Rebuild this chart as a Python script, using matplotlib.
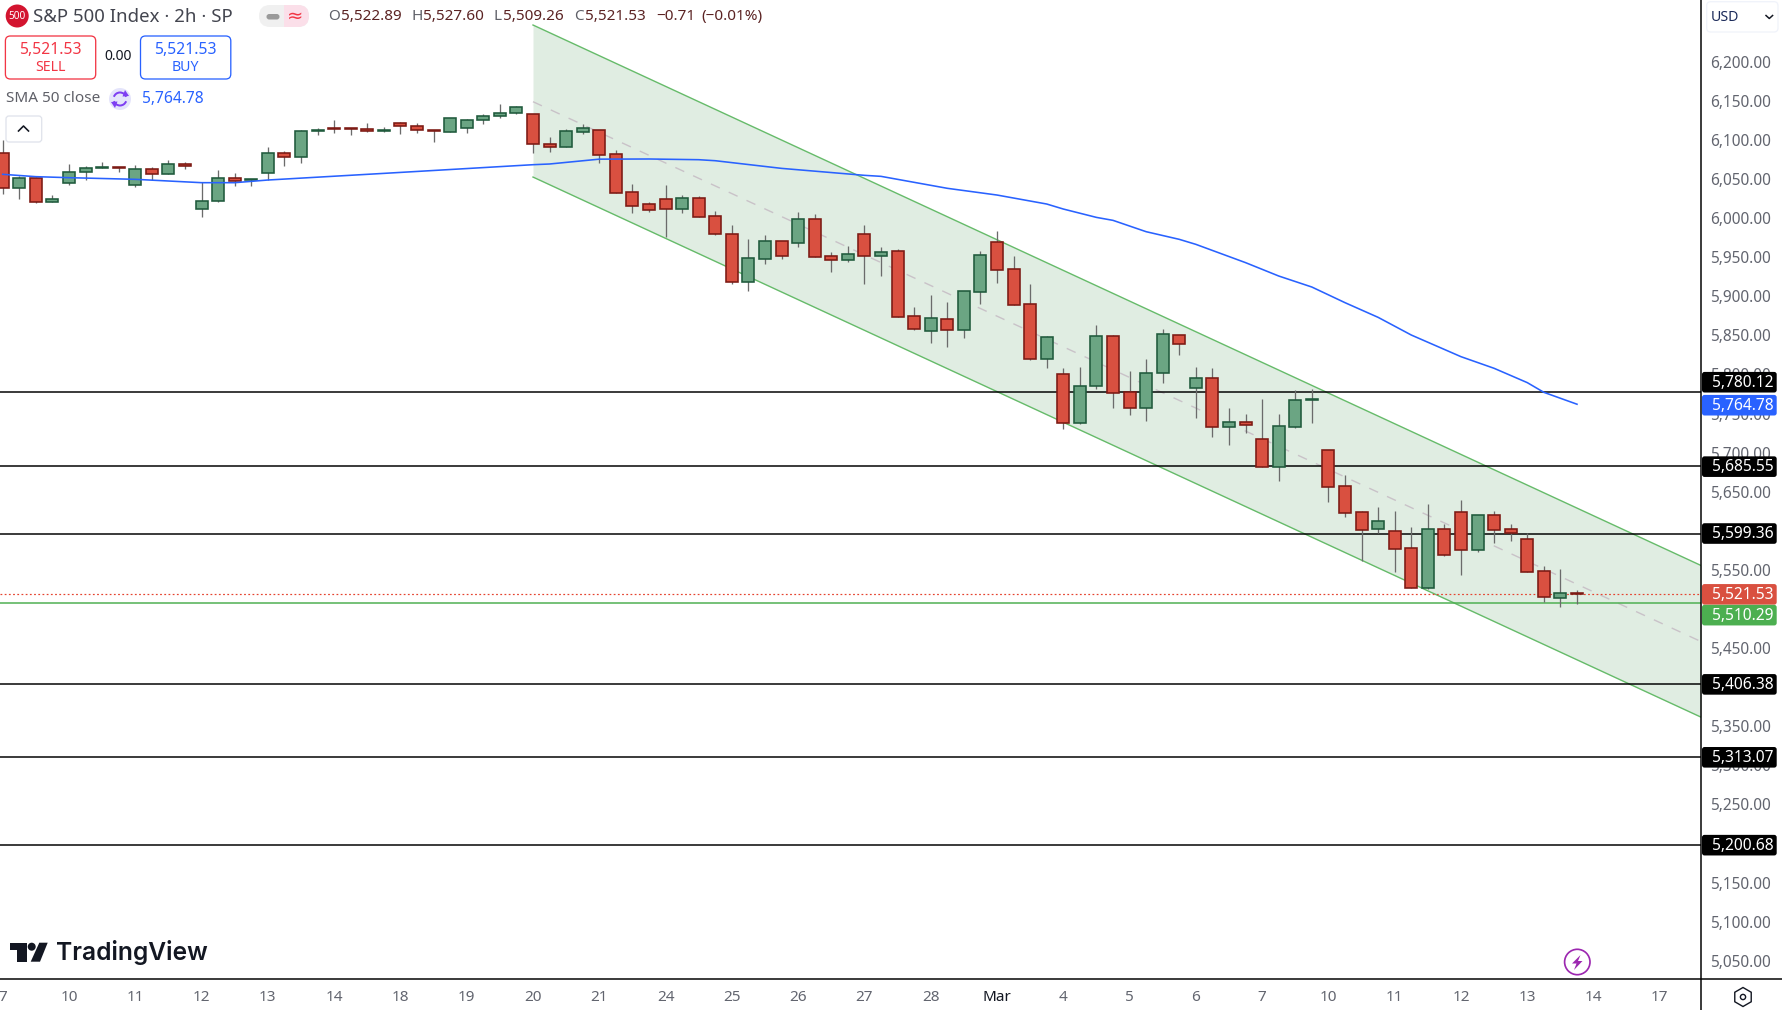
import matplotlib
matplotlib.use("Agg")
import matplotlib.pyplot as plt
from matplotlib.patches import FancyBboxPatch, Circle, Polygon, Arc, RegularPolygon, Rectangle
from matplotlib.transforms import ScaledTranslation

plt.rcParams['font.family'] = ['Noto Sans', 'DejaVu Sans']

# ---------- data ----------
opens = [6085.7,6041,6053.7,6023,6047.3,6062.3,6066.5,6068.2,6044.8,6065.3,6058.9,6071.7,
         6014.1,6024.3,6053.7,6051.6,6061,6085.7,6080.6,6113.9,6118.1,6117.7,6116.4,6113.9,
         6124.1,6120.3,6115.6,6113.4,6117.7,6127.9,6133,6136.9,
         6135.6,6097.2,6094.2,6113.4,6115.1,6084.4,6035.8,6020.5,6026.9,6014.9,6028.2,6005.1,
         5982.1,5921.6,5951,5973.2,5971.4,6001.3,5953.9,5949.7,5982.1,5954.8,5960.4,5877.2,
         5858.9,5873.4,5860.2,5908.8,5971.9,5937.3,5892.6,5823,
         5803,5740.3,5787.7,5851.6,5780,5759.5,5804.3,5852.9,5785.9,5797.9,5736.1,5741.6,
         5719.9,5684.9,5736.1,5770.8,5705.8,5659.7,5626.5,5605.6,5602.2,5580.4,5530.1,5604.7,
         5626.5,5577.8,5622.6,5604.7,5591.9,5551,5517.3,5522.89]
highs = [6102.8,6056.7,6055.9,6032.4,6072.1,6069.5,6074.2,6068.6,6070.8,6067.8,6077.2,6074.2,
         6049.5,6064.4,6060.1,6052.9,6094.3,6088.7,6115.6,6118.1,6128.4,6118.6,6124.1,6119.8,
         6125.8,6124.1,6115.8,6130.9,6129.2,6136,6148.8,6146.3,
         6135.9,6107,6116.9,6123.2,6115.6,6090,6046.5,6023.5,6045.2,6032.4,6031.1,6011.9,
         5994,5976.1,5981.3,5973.4,6010.7,6008,5959.5,5967.2,5994,5965.9,5963.3,5889.1,
         5904.5,5895.6,5909.4,5960.8,5986.4,5954.4,5918.6,5852,
         5811.5,5812.4,5866.1,5853.3,5807.3,5822.6,5860.9,5853.1,5812.4,5811.1,5760,5752.3,
         5771.5,5752.3,5783,5784.3,5706,5674.2,5628.2,5633.3,5627.7,5607.8,5637.1,5611.9,
         5642.3,5622.8,5628.2,5611.4,5599.6,5557.8,5554,5527.6]
lows = [6033.7,6027.3,6021.8,6023,6045.2,6051.6,6066.5,6062.3,6043,6051.6,6058.9,6066.1,
        6004.7,6023.9,6044.4,6044.4,6051.6,6070,6073.8,6109.6,6112.2,6109.6,6113,6113,
        6110.5,6112.2,6100.6,6113,6112.2,6123.2,6131.3,6136.5,
        6086.6,6087.9,6094,6110.5,6073.8,6035.2,6009.8,6011.1,5979.1,6009.8,6004.5,5981.3,
        5918.6,5910,5944.6,5951,5965.9,5953.3,5933.9,5946.7,5919,5928.8,5876.6,5859.7,
        5843.5,5838.4,5849.9,5893.4,5920.3,5891.9,5821.8,5811.5,
        5733,5740.1,5783.8,5760.4,5751.4,5743.7,5792.4,5828.2,5747.6,5723.3,5713,5728.4,
        5684.7,5667,5734.8,5741.2,5640.1,5620.9,5564.7,5599.6,5550.6,5529.9,5528.8,5571,
        5546.8,5576,5587,5590.4,5550.4,5512.2,5505.8,5509.26]
closes = [6041,6053.7,6023,6026.9,6061.4,6066.5,6067.8,6067.4,6065.3,6058.9,6071.7,6069.1,
          6024.3,6053.7,6050.8,6052.5,6085.7,6080.6,6113.9,6115.1,6117.3,6116.4,6113.9,6115.1,
          6120.3,6115.1,6114.7,6130.5,6127.9,6133,6136.9,6144.6,
          6097.2,6094.2,6113.9,6117.7,6084,6035.4,6018.8,6013.7,6014.9,6028.2,6004.7,5983,
          5921.6,5951.4,5973.2,5954.8,6001.3,5953.5,5949.7,5956.5,5954.8,5959.1,5876.8,5861.4,
          5874.7,5860.2,5909.2,5955.2,5936.9,5892.1,5823,5850.3,
          5741.2,5787.7,5851.6,5778.7,5760.4,5804.3,5854.1,5842.2,5797.9,5736.1,5741.6,5738.6,
          5684.9,5736.5,5769.8,5771.1,5659.3,5626,5604.3,5615,5580,5530.1,5604.7,5572.3,
          5577.8,5622.6,5604.3,5599.6,5550.6,5518.6,5522.9,5521.53]

sma_bars = [0,2,4,8,12,14,16,23,32,33,36,39,42,43,47,52,53,57,60,63,64,66,67,69,71,72,75,77,79,81,83,85,88,90,92,93,95]
sma_vals = [6058.9,6055.9,6054.6,6052.5,6048.2,6048.2,6051.6,6060.1,6071.2,6072.1,6078.3,6078.5,6077.6,
            6076.3,6066.5,6057.6,6056.3,6041,6032.4,6020.9,6014.5,6003.8,6000,5985.5,5975.7,5969.3,
            5945.9,5928.8,5914.7,5894.7,5875.9,5853.3,5825.6,5810.7,5792.4,5780,5764.78]

channel_bars = [32, 102.5]
channel_top = [6249.9, 5558.3]
channel_mid = [6151.8, 5461.0]
channel_bot = [6055.4, 5364.3]

levels = [5780.12, 5685.55, 5599.36, 5406.38, 5313.07, 5200.68]
green_level = 5510.29
last_price = 5521.53
sma_last = 5764.78

# ticks that sit fully behind a price label in the reference carry no visible text
y_ticks = [6200,6150,6100,6050,6000,5950,5900,5850,5800,5750,5700,5650,5600,5550,5500,5450,
           5400,5350,5300,5250,5200,5150,5100,5050]
hidden_y_ticks = [5600, 5500, 5400, 5200]
x_labels = ['7','10','11','12','13','14','18','19','20','21','24','25','26','27','28','Mar',
            '4','5','6','7','10','11','12','13','14','17']

# ---------- layout ----------
W, H = 1783, 1010
FRAME_X, FRAME_Y = 1701.3, 979.3
PX = 0.72  # one pixel in points at dpi 100
fig = plt.figure(figsize=(W/100, H/100), dpi=100, facecolor='white')
ax = fig.add_axes([0, 1-FRAME_Y/H, FRAME_X/W, FRAME_Y/H])
ax.set_xlim(-0.163, 102.5)
ax.set_ylim(5029.1, 6281.9)
for s in ax.spines.values():
    s.set_visible(False)

GREY = '#62656f'
ax.yaxis.tick_right()
ax.set_yticks(y_ticks)
ax.set_yticklabels(['' if v in hidden_y_ticks else f'{v:,.2f}' for v in y_ticks], fontsize=11.1, color=GREY)
ax.tick_params(axis='y', length=0, pad=6.6)
up_shift = ScaledTranslation(0, 2.2/100, fig.dpi_scale_trans)
for t in ax.get_yticklabels():
    t.set_transform(t.get_transform() + up_shift)
ax.set_xticks([i*4 for i in range(len(x_labels))])
ax.set_xticklabels(x_labels, fontsize=11, color=GREY)
ax.tick_params(axis='x', length=0, pad=7.6)
for t in ax.get_xticklabels():
    if t.get_text() == 'Mar':
        t.set_color('#131722'); t.set_fontweight('medium')

# channel
GL = '#66bb6a'
ax.fill_between(channel_bars, channel_bot, channel_top, color='#e0ede2', lw=0, zorder=1)
ax.plot(channel_bars, channel_top, color=GL, lw=1.4*PX, zorder=2)
ax.plot(channel_bars, channel_bot, color=GL, lw=1.4*PX, zorder=2)
ax.plot(channel_bars, channel_mid, color='#c9c2c8', lw=1.4*PX, dashes=(7, 7), zorder=2)

# levels
for lv in levels:
    ax.axhline(lv, color='black', lw=1.5*PX, zorder=3)
ax.axhline(green_level, color='#4caf50', lw=1.5*PX, zorder=3)
ax.axhline(last_price, color='#e5432f', lw=1.2*PX, ls=(0, (1.5, 2)), zorder=3)

# candles
idx = list(range(len(opens)))
ax.vlines(idx, lows, highs, color='#6b6b6b', lw=1.3*PX, zorder=4)
for i, o, c in zip(idx, opens, closes):
    up = c >= o
    ax.bar(i, abs(c-o), bottom=min(o, c), width=0.72,
           facecolor='#6ba583' if up else '#d95040',
           edgecolor='#1f5a3c' if up else '#7c1a14',
           linewidth=1.6*PX, zorder=5)

# SMA
ax.plot(sma_bars, sma_vals, color='#2962ff', lw=1.6*PX, zorder=6, solid_joinstyle='round')

# ---------- chrome overlay in pixel coordinates ----------
ov = fig.add_axes([0, 0, 1, 1], zorder=10)
ov.set_xlim(0, W); ov.set_ylim(H, 0); ov.axis('off'); ov.patch.set_alpha(0)

ov.plot([FRAME_X, FRAME_X], [0, H], color='black', lw=1.5*PX)
ov.plot([0, W], [FRAME_Y, FRAME_Y], color='black', lw=1.5*PX)

def rbox(x0, y0, x1, y1, r, fc='none', ec='none', lw=1.0, z=2):
    p = FancyBboxPatch((x0+r, y0+r), x1-x0-2*r, y1-y0-2*r,
                       boxstyle=f'round,pad={r},rounding_size={r}',
                       fc=fc, ec=ec, lw=lw*PX, zorder=z, mutation_aspect=1)
    ov.add_patch(p)

def txt(x, y, s, size=10.7, color='#131722', ha='left', weight='normal', z=5, **kw):
    ov.text(x, y+1.8, s, fontsize=size, color=color, ha=ha, va='center', fontweight=weight, zorder=z, **kw)

# price labels
def py(p):
    return 64 + (6200-p)*0.7817
labels = [(5780.12, -10, '#000000'), (sma_last, 1, '#2962ff'), (5685.55, 0.5, '#000000'),
          (5599.36, 0, '#000000'), (last_price, 0, '#d95040'), (green_level, 12, '#4caf50'),
          (5406.38, 0, '#000000'), (5313.07, 0, '#000000'), (5200.68, 0, '#000000')]
for p, off, col in labels:
    yc = py(p)+off
    rbox(1702, yc-10.3, 1776.7, yc+10.3, 2.5, fc=col, z=3)
    txt(1711.8, yc-1.3, f'{p:,.2f}', size=11.2, color='white', z=4, weight='semibold')

# header
ov.add_patch(Circle((17.2, 16), 11.5, fc='#d3142f', ec='none'))
txt(17.2, 14.8, '500', size=7.2, color='white', ha='center', weight='bold')
txt(33.5, 15, 'S&P 500 Index · 2h · SP', size=13.4, color='#43454f')

rbox(259, 5, 309, 27, 11, fc='#f0f0f0')
ov.add_patch(Rectangle((284, 5), 14, 22, fc='#fbdfe9', ec='none', zorder=2.5))
rbox(284, 5, 309, 27, 11, fc='#fbdfe9', z=2.5)
rbox(266.5, 14, 279.5, 19.5, 2.7, fc='#9a9a9a', z=3)
txt(295, 14.5, '≈', size=14, color='#f23645', ha='center', family='DejaVu Sans')

DR = '#5b2323'; LG = '#5f6068'
for x, s, c in [(328, 'O', LG), (341, '5,522.89', DR), (411.5, 'H', LG), (423, '5,527.60', DR),
                (494, 'L', LG), (503.5, '5,509.26', DR), (574, 'C', LG), (585, '5,521.53', DR),
                (656.5, '−0.71', DR), (701, '(−0.01%)', DR)]:
    txt(x, 15, s, size=11, color=c)

RED, BLUE = '#f23645', '#2962ff'
rbox(5.4, 36, 95.7, 79, 5, fc='white', ec=RED, lw=1.3)
rbox(140.5, 36, 230.8, 79, 5, fc='white', ec=BLUE, lw=1.3)
txt(50.5, 48, '5,521.53', size=11.3, color=RED, ha='center', weight='semibold')
txt(50.5, 65.5, 'SELL', size=10.2, color=RED, ha='center')
txt(185.6, 48, '5,521.53', size=11.3, color=BLUE, ha='center', weight='semibold')
txt(185.6, 65.5, 'BUY', size=10.2, color=BLUE, ha='center')
txt(118, 55, '0.00', size=10, color='#131722', ha='center')

txt(5.7, 97, 'SMA 50 close', size=11, color=LG)
ov.add_patch(Circle((120, 99), 11, fc='#e4e4fb', ec='none', zorder=2))
ov.add_patch(Arc((120, 99), 13, 13, theta1=200, theta2=340, color='#7e3ff2', lw=2*PX, zorder=3))
ov.add_patch(Arc((120, 99), 13, 13, theta1=20, theta2=160, color='#7e3ff2', lw=2*PX, zorder=3))
ov.add_patch(Polygon([(125, 90), (129, 96), (122.5, 96.5)], fc='#7e3ff2', ec='none', zorder=3))
ov.add_patch(Polygon([(115, 108), (111, 102), (117.5, 101.5)], fc='#7e3ff2', ec='none', zorder=3))
txt(142, 97, '5,764.78', size=11.2, color=BLUE)

rbox(6, 116, 41.7, 142, 3, fc='white', ec='#e0e3eb', lw=1.3)
ov.plot([18.5, 23.5, 28.5], [131, 126, 131], color='#131722', lw=1.6*PX, zorder=3)

rbox(1706.7, 1.7, 1778, 32, 4, fc='white', ec='#f0f3fa', lw=1.3)
txt(1711, 15.5, 'USD', size=10.2, color='#1c2b5a')
ov.plot([1766, 1769.3, 1772.6], [15.5, 18.5, 15.5], color='#131722', lw=1.5*PX, zorder=3)

# gear + lightning
ov.add_patch(RegularPolygon((1743, 997), 6, radius=9.5, fc='none', ec='#131722', lw=1.4*PX))
ov.add_patch(Circle((1743, 997), 2.6, fc='none', ec='#131722', lw=1.4*PX))
PUR = '#9c27b0'
ov.add_patch(Circle((1577.3, 962), 12.7, fc='white', ec=PUR, lw=1.7*PX))
ov.add_patch(Polygon([(1580.5, 955), (1572, 963.5), (1576.5, 963.5), (1574, 970), (1582.5, 961), (1578, 961)],
                     fc=PUR, ec='none', zorder=3))

# logo
DK = '#131722'
ov.add_patch(Polygon([(10, 942.7), (26.7, 942.7), (26.7, 961.7), (17.3, 961.7), (17.3, 949.5), (10, 949.5)], fc=DK, ec='none'))
ov.add_patch(Circle((31.7, 946.7), 4, fc=DK, ec='none'))
ov.add_patch(Polygon([(39.3, 942.7), (47.7, 942.7), (40, 961.7), (30.7, 961.7)], fc=DK, ec='none'))
txt(56, 950.5, 'TradingView', size=17.7, color=DK, weight='semibold', family='Inter')

fig.savefig('out.png', dpi=100, facecolor='white')
